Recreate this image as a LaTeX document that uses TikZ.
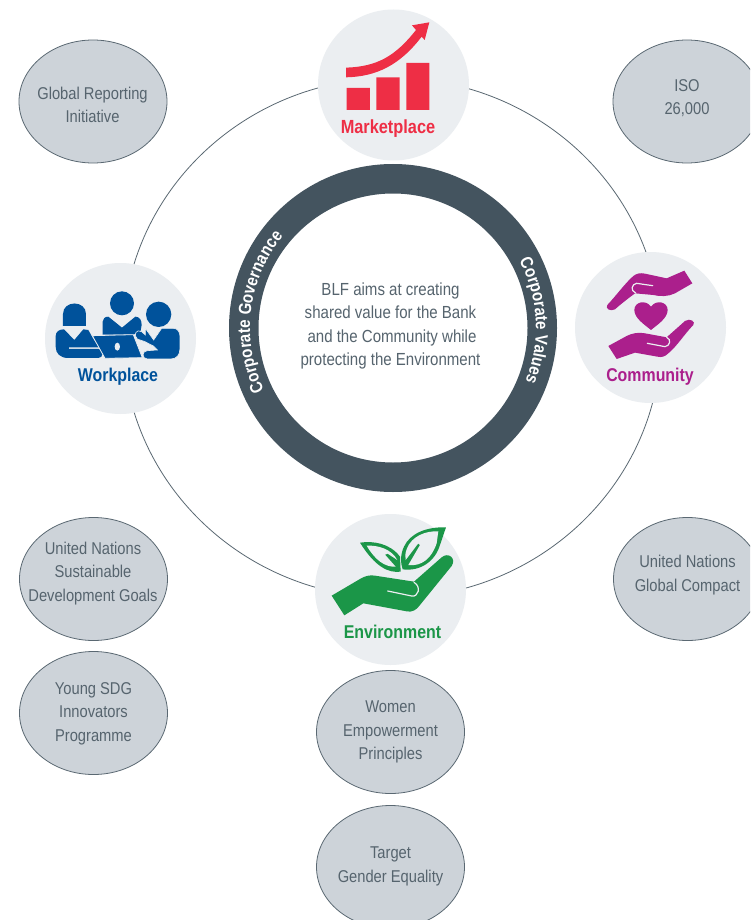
\documentclass[tikz,border=0pt]{standalone}
\usepackage{fontspec}
\setmainfont[FakeStretch=0.86]{Liberation Sans}
\usetikzlibrary{shapes.geometric,decorations.text}
\definecolor{ringc}{HTML}{44545F}
\definecolor{discc}{HTML}{EBEEF1}
\definecolor{ovalc}{HTML}{CDD3D9}
\definecolor{ovale}{HTML}{5A6872}
\definecolor{txtc}{HTML}{56646E}
\definecolor{redc}{HTML}{EE2E45}
\definecolor{bluec}{HTML}{00529B}
\definecolor{magc}{HTML}{AB1F8C}
\definecolor{grnc}{HTML}{1B9648}
\tikzset{
  oval/.style={ellipse,draw=ovale,line width=.8pt,fill=ovalc,minimum width=148pt,minimum height=123pt,inner sep=0pt},
  ovaltxt/.style={align=center,text=txtc,inner sep=0pt,font=\fontsize{17.1}{23.5}\selectfont},
  disc/.style={circle,fill=discc,minimum size=151pt,inner sep=0pt},
  lbl/.style={font=\fontsize{18.5}{20}\selectfont\bfseries,inner sep=0pt},
  icon/.style={x=.3333pt,y=-.3333pt},
  gap/.style={draw=discc,line width=1.2pt,line cap=round,fill=none}
}
\begin{document}
\begin{tikzpicture}[x=1pt,y=-1pt]
\useasboundingbox (0,0) rectangle (750,920);
\clip (0,0) rectangle (750,920);
\fill[white] (0,0) rectangle (750,920);
% thin orbit
\draw[ovale,line width=.8pt] (392,338) ellipse [x radius=269,y radius=260];
% ring
\fill[ringc,even odd rule] (393,328) circle[radius=164] (393,328) circle[radius=134.5];
% discs
\node[disc] (market) at (393.5,85) {};
\node[disc] (work) at (120.5,338.5) {};
\node[disc] (comm) at (650.5,327.5) {};
\node[disc] (env) at (390.5,589.5) {};
% ring text
\begin{scope}[shift={(393,328)},x=1pt,y=1pt]
\path[decorate,decoration={text along path,text align=center,text={|\fontsize{17.6}{18}\selectfont\bfseries\color{white}|Corporate Governance}}] (216:143) arc[start angle=216,end angle=130,radius=143];
\path[decorate,decoration={text along path,text align=center,text={|\fontsize{17.6}{18}\selectfont\bfseries\color{white}|Corporate Values}}] (42:143) arc[start angle=42,end angle=-36,radius=143];
\end{scope}
\node[align=center,text=txtc,inner sep=0pt,font=\fontsize{17.5}{23.6}\selectfont] (centre) at (390.5,326) {BLF aims at creating\\shared value for the Bank\\\hspace*{3pt}and the Community while\\protecting the Environment};
% Marketplace icon
\begin{scope}[shift={(310,0)},icon]
\fill[redc] (110,264) rectangle (180,330) (199,232) rectangle (269,330) (289,189) rectangle (358,330);
\fill[redc] (108,203) .. controls (200,200) and (255,170) .. (318,90) -- (306,76) -- (358,67) -- (344,120) -- (335,110) .. controls (270,195) and (200,230) .. (108,232) -- cycle;
\end{scope}
\node[lbl,text=redc,font=\fontsize{19}{20}\selectfont\bfseries] (marketl) at (388,128.5) {Marketplace};
% Workplace icon
\begin{scope}[shift={(40,260)},icon]
\fill[bluec] (69,198) -- (69,162) .. controls (69,120) and (138,120) .. (138,162) -- (138,198) -- cycle;
\fill[bluec] (246,130) circle[radius=36];
\fill[bluec] (356,163) circle[radius=38];
% left body
\fill[bluec] (72,208) -- (103,240) -- (130,208) -- (145,210) -- (155,228) -- (176,262) -- (87,262) -- (87,267) -- (178,267) .. controls (192,272) and (190,294) .. (175,294) -- (85,294) .. controls (60,294) and (47,280) .. (47,260) -- (47,228) .. controls (47,215) and (58,208) .. (72,208) -- cycle;
% middle body
\fill[bluec] (205,170) -- (246,203) -- (286,170) .. controls (300,170) and (305,182) .. (305,195) -- (302,212) -- (280,224) -- (188,224) -- (188,185) .. controls (188,176) and (195,170) .. (205,170) -- cycle;
% laptop
\filldraw[fill=bluec,draw=discc,line width=.8pt] (157,227) -- (280,224) -- (307,293) -- (195,295) -- cycle;
\fill[discc] (232,260) ellipse[x radius=8,y radius=12];
% right body
\filldraw[fill=bluec,draw=discc,line width=.6pt] (316,205) -- (341,240) -- (365,205) -- (400,205) .. controls (413,205) and (420,216) .. (420,230) -- (420,265) .. controls (420,285) and (410,297) .. (392,297) -- (322,297) .. controls (305,297) and (305,272) .. (322,272) -- (352,270) -- (340,258) -- (315,245) -- (292,237) .. controls (278,225) and (290,205) .. (305,215) -- (316,225) -- cycle;
\end{scope}
\node[lbl,text=bluec] (workl) at (118,376.5) {Workplace};
% Community icon
\begin{scope}[shift={(570,250)},icon]
\fill[magc] (112,165) .. controls (140,135) and (165,100) .. (190,78) .. controls (200,70) and (212,68) .. (225,71) -- (290,85) -- (343,62) -- (367,100) -- (315,130) .. controls (295,140) and (270,140) .. (250,135) -- (195,130) .. controls (175,145) and (155,160) .. (135,178) .. controls (120,186) and (105,175) .. (112,165) -- cycle;
\draw[gap] (248,107) -- (200,100) .. controls (185,102) and (180,122) .. (197,129);
\fill[magc] (243,240) .. controls (225,225) and (193,205) .. (193,180) .. controls (193,155) and (228,148) .. (243,170) .. controls (258,148) and (293,155) .. (293,180) .. controls (293,205) and (261,225) .. (243,240) -- cycle;
\fill[magc] (370,225) .. controls (345,250) and (320,290) .. (295,310) .. controls (285,320) and (275,323) .. (262,320) -- (195,308) -- (140,327) -- (115,288) -- (170,258) .. controls (185,250) and (205,246) .. (225,250) -- (290,262) -- (345,213) .. controls (360,203) and (378,215) .. (370,225) -- cycle;
\draw[gap] (232,280) -- (285,290) .. controls (300,288) and (305,268) .. (290,262);
\end{scope}
\node[lbl,text=magc] (comml) at (650,377) {Community};
% Environment icon
\begin{scope}[shift={(310,510)},icon]
\fill[grnc] (65,257) -- (150,207) .. controls (165,198) and (180,194) .. (195,197) -- (312,215) -- (395,142) .. controls (415,125) and (440,145) .. (425,168) -- (330,285) .. controls (320,300) and (305,308) .. (290,304) -- (160,280) -- (103,316) -- cycle;
\draw[gap] (233,243) -- (305,258) .. controls (325,262) and (335,230) .. (312,217);
% left leaf
\fill[grnc] (150,98) .. controls (190,92) and (240,100) .. (270,140) -- (272,185) .. controls (235,190) and (195,170) .. (150,98) -- cycle;
\fill[discc] (170,107) .. controls (205,105) and (245,118) .. (262,150) -- (233,131) -- (225,134) -- (257,170) .. controls (225,172) and (195,150) .. (170,107) -- cycle;
% right leaf
\fill[grnc] (408,52) .. controls (350,50) and (300,70) .. (282,110) .. controls (270,135) and (272,160) .. (278,178) .. controls (330,185) and (375,155) .. (390,105) -- cycle;
\fill[discc] (385,64) .. controls (345,62) and (305,80) .. (291,115) .. controls (285,130) and (285,140) .. (287,150) -- (325,100) -- (330,105) -- (295,165) .. controls (335,170) and (365,145) .. (380,100) -- cycle;
\end{scope}
\node[lbl,text=grnc] (envl) at (392.5,632) {Environment};
% ovals
\node[oval] (gri) at (93,101.5) {};
\node[ovaltxt] (grit) at (92.5,105) {Global Reporting\\Initiative};
\node[oval] (iso) at (687,101.5) {};
\node[ovaltxt] (isot) at (687,98) {ISO\\26,000};
\node[oval] (ungc) at (687.5,579) {};
\node[ovaltxt] (ungct) at (687.5,575) {United Nations\\Global Compact};
\node[oval] (sdg) at (93.5,579) {};
\node[ovaltxt] (sdgt) at (93,573.5) {United Nations\\Sustainable\\Development Goals};
\node[oval] (young) at (93.5,713) {};
\node[ovaltxt] (youngt) at (93.5,713.5) {Young SDG\\Innovators\\Programme};
\node[oval] (wep) at (390.5,732) {};
\node[ovaltxt] (wept) at (390.5,732) {Women\\Empowerment\\Principles};
\node[oval] (tge) at (390.5,867) {};
\node[ovaltxt] (tget) at (390.5,866.5) {Target\\Gender Equality};
\end{tikzpicture}
\end{document}
